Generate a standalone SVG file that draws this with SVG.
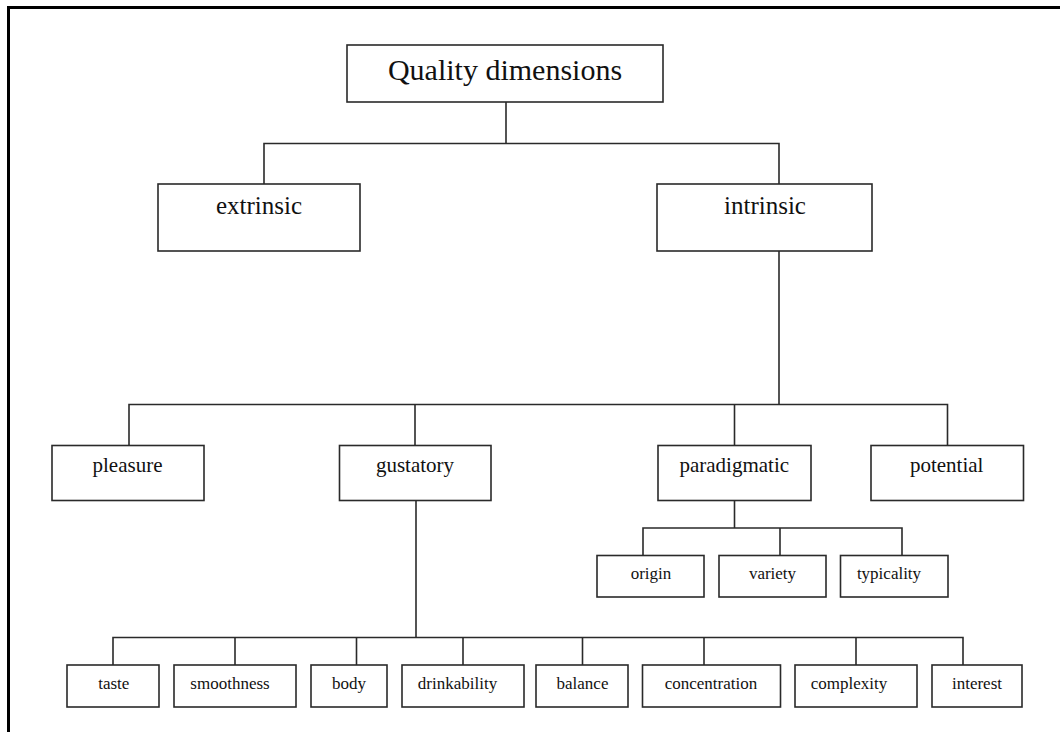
<svg xmlns="http://www.w3.org/2000/svg" width="1060" height="732" viewBox="0 0 1060 732">
<style>
.box{fill:#fff;stroke:#2a2a2a;stroke-width:1.6}
.ln{fill:none;stroke:#2a2a2a;stroke-width:1.6}
text{font-family:"Liberation Serif","Times New Roman",serif;fill:#111;text-anchor:middle}
.t0{font-size:30px}
.t1{font-size:25px}
.t2{font-size:21px}
.t3{font-size:17px}
</style>
<rect width="1060" height="732" fill="#fff"/>
<path d="M8.5,732 V7.5 H1060" fill="none" stroke="#000" stroke-width="3"/>
<g id="connectors" class="ln">
<path d="M506,102 V143.5"/>
<path d="M264,184 V143.5 H779 V184"/>
<path d="M779,251 V404.5"/>
<path d="M129,445.5 V404.5 H947.5 V445.5"/>
<path d="M415,404.5 V445.5"/>
<path d="M734.5,404.5 V445.5"/>
<path d="M734.5,500.5 V528"/>
<path d="M643,555.5 V528 H902 V555.5"/>
<path d="M780,528 V555.5"/>
<path d="M416,500.5 V637.5"/>
<path d="M113,665 V637.5 H963 V665"/>
<path d="M235,637.5 V665"/>
<path d="M356.5,637.5 V665"/>
<path d="M463,637.5 V665"/>
<path d="M582.5,637.5 V665"/>
<path d="M704,637.5 V665"/>
<path d="M856,637.5 V665"/>
</g>
<g id="quality"><rect class="box" x="347" y="45" width="316" height="57"/><text class="t0" x="505" y="80">Quality dimensions</text></g>
<g id="extrinsic"><rect class="box" x="158" y="184" width="202" height="67"/><text class="t1" x="259" y="214">extrinsic</text></g>
<g id="intrinsic"><rect class="box" x="657" y="184" width="215" height="67"/><text class="t1" x="765" y="214">intrinsic</text></g>
<g id="pleasure"><rect class="box" x="52" y="445.5" width="152" height="55"/><text class="t2" x="127.5" y="472">pleasure</text></g>
<g id="gustatory"><rect class="box" x="339.5" y="445.5" width="151.5" height="55"/><text class="t2" x="415" y="472">gustatory</text></g>
<g id="paradigmatic"><rect class="box" x="658" y="445.5" width="153" height="55"/><text class="t2" x="734.3" y="472">paradigmatic</text></g>
<g id="potential"><rect class="box" x="871" y="445.5" width="152.5" height="55"/><text class="t2" x="946.7" y="472">potential</text></g>
<g id="origin"><rect class="box" x="597" y="555.5" width="107" height="41.5"/><text class="t3" x="651" y="579">origin</text></g>
<g id="variety"><rect class="box" x="719" y="555.5" width="107" height="41.5"/><text class="t3" x="772.5" y="579">variety</text></g>
<g id="typicality"><rect class="box" x="840.5" y="555.5" width="107.5" height="41.5"/><text class="t3" x="889" y="579">typicality</text></g>
<g id="taste"><rect class="box" x="67" y="665" width="92" height="42"/><text class="t3" x="113.8" y="688.5">taste</text></g>
<g id="smoothness"><rect class="box" x="174" y="665" width="122" height="42"/><text class="t3" x="230" y="688.5">smoothness</text></g>
<g id="body"><rect class="box" x="311" y="665" width="76" height="42"/><text class="t3" x="349" y="688.5">body</text></g>
<g id="drinkability"><rect class="box" x="402" y="665" width="122" height="42"/><text class="t3" x="457.5" y="688.5">drinkability</text></g>
<g id="balance"><rect class="box" x="536" y="665" width="92" height="42"/><text class="t3" x="582.5" y="688.5">balance</text></g>
<g id="concentration"><rect class="box" x="642.5" y="665" width="138" height="42"/><text class="t3" x="711" y="688.5">concentration</text></g>
<g id="complexity"><rect class="box" x="795" y="665" width="122" height="42"/><text class="t3" x="849" y="688.5">complexity</text></g>
<g id="interest"><rect class="box" x="932" y="665" width="90" height="42"/><text class="t3" x="977" y="688.5">interest</text></g>
</svg>
